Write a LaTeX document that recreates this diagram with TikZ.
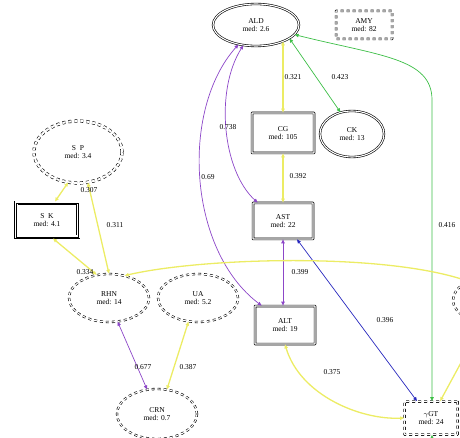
\documentclass[tikz,border=0pt]{standalone}
\usepackage{fontspec}
\setmainfont{Liberation Serif}
\usetikzlibrary{arrows.meta,calc}
\usetikzlibrary{shapes.geometric}

\definecolor{edgeyel}{RGB}{236,236,100}
\definecolor{edgegrn}{RGB}{60,190,70}
\definecolor{edgepur}{RGB}{140,70,200}
\definecolor{edgeblu}{RGB}{40,40,190}

\begin{document}
\begin{tikzpicture}[x=1pt,y=-1pt,>={Triangle[length=4pt,width=3.4pt]},
  every node/.style={align=center,font=\fontsize{7.5}{8.5}\selectfont,inner sep=0pt},
  wbox/.style={minimum width=60pt,minimum height=36pt,draw,rounded corners=0.3pt,double,line width=0.7pt,double distance=1.1pt},
  tribox/.style={minimum width=62pt,minimum height=34pt,preaction={draw=black,line width=4.4pt},draw=white,line width=3pt,postaction={draw=black,line width=0.7pt}},
  dashbox/.style={minimum width=56pt,minimum height=28pt,draw,rounded corners=0.3pt,double,dashed,line width=0.7pt,double distance=1.1pt},
  dell/.style={shape=ellipse,draw,double,line width=0.6pt,double distance=1.1pt},
  dashell/.style={shape=ellipse,draw,double,dashed,line width=0.6pt,double distance=1.1pt,minimum width=80pt,minimum height=48pt},
  lbl/.style={font=\fontsize{7.5}{8}\selectfont},
  yel/.style={draw=edgeyel,<->,line width=1.3pt},
  grn/.style={draw=edgegrn,<->,line width=0.7pt},
  pur/.style={draw=edgepur,<->,line width=0.7pt},
  blu/.style={draw=edgeblu,<->,line width=0.7pt}]
\useasboundingbox (0,0) rectangle (460,438);
% nodes
\node[dell,minimum width=86pt,minimum height=42pt] (ALD) at (256,25) {ALD\\med: 2.6};
\node[dashbox] (AMY) at (364,25) {AMY\\med: 82};
\node[wbox,minimum width=62pt,minimum height=40pt] (CG) at (283,133) {CG\\med: 105};
\node[dell,minimum width=64pt,minimum height=46pt] (CK) at (352,134) {CK\\med: 13};
\node[wbox] (AST) at (283,221) {AST\\med: 22};
\node[wbox,minimum height=38pt] (ALT) at (285,325) {ALT\\med: 19};
\node[dashbox,minimum width=53pt,minimum height=33pt] (GGT) at (431,418) {$\gamma$GT\\med: 24};
\node[dashell,double distance=2pt,minimum width=88pt,minimum height=62pt] (SP) at (78,152) {S\ \ P\\med: 3.4};
\node[tribox] (SK) at (47,220) {S\ \ K\\med: 4.1};
\node[dashell] (RHN) at (109,298) {RHN\\med: 14};
\node[dashell] (UA) at (198,298) {UA\\med: 5.2};
\node[dashell,minimum height=50pt] (CRN) at (157,414) {CRN\\med: 0.7};
\node[dashell,minimum width=84pt] (RX) at (495,300) {};
\coordinate (gbend) at (432,100);
\coordinate (gbelow) at (432,470);
% connectors
\draw[yel] (CG.north |- ALD.-31) -- (CG.north);
\draw[yel] (CG.south) -- (AST.north);
\draw[grn] (ALD.-22) -- (CK.118);
\draw[grn] (ALD.-14) .. controls (380,56) and (432,58) .. (gbend) -- (gbend |- GGT.north);
\draw[pur] (ALD.-122) .. controls (215,90) and (222,170) .. ([xshift=5pt]AST.north west);
\draw[pur] (ALD.-132) .. controls (180,110) and (188,250) .. ([xshift=7pt]ALT.north west);
\draw[pur] (AST.south) -- (AST.south |- ALT.north);
\draw[blu] ([xshift=14pt]AST.south) -- ([xshift=-14pt]GGT.north);
\draw[yel] (ALT.south) .. controls (300,395) and (360,420) .. (GGT.west);
\draw[yel] (SP.-108) -- ([xshift=8pt]SK.north);
\draw[yel] (SP.-72) -- (RHN.north);
\draw[yel] ([xshift=6pt]SK.south) -- (RHN.118);
\draw[yel] (RHN.55) .. controls (200,258) and (380,252) .. (RX.145);
\draw[yel] (RX) -- (GGT);
\draw[pur] (RHN.-70) -- (CRN.112);
\draw[yel] (UA.-112) -- (CRN.68);
\draw[draw=edgegrn,->,line width=0.7pt] (gbelow) -- (gbelow |- GGT.south);
% weights
\foreach \n/\x/\y/\t in {a/293/77/0.321,b/340/77/0.423,c/228/127/0.738,d/208/177/0.69,
  e/298/176/0.392,f/447/225/0.416,g/300/272/0.399,h/385/320/0.396,i/332/372/0.375,
  j/89/190/0.307,k/115/225/0.311,l/85/272/0.334,m/143/367/0.677,n/188/367/0.387}
  \node[lbl] (w\n) at (\x,\y) {\t};
\end{tikzpicture}
\end{document}
